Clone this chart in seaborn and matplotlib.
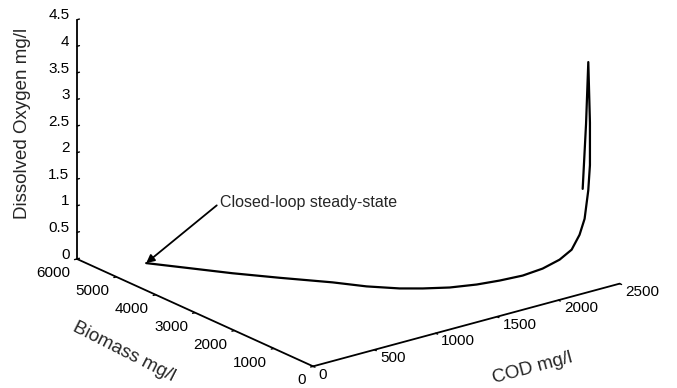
import matplotlib
matplotlib.use('Agg')
import matplotlib.pyplot as plt
import seaborn as sns
from mpl_toolkits.mplot3d import proj3d

# trajectory
cod = [2300, 2330, 2350, 2365, 2365, 2340, 2332, 2366, 2337, 2253,
       2095, 1915, 1741, 1579, 1407, 1258, 1140, 994, 865, 645, 455, 292, 128]
biomass = [317, 325, 330, 335, 335, 300, 368, 602, 713, 757,
           697, 641, 684, 762, 913, 1135, 1354, 1738, 2202, 2865, 3470, 4055, 4640]
oxygen = [1.8, 3.0, 4.15, 3.0, 2.2, 1.75, 1.2, 0.8, 0.5, 0.35,
          0.3, 0.3, 0.3, 0.3, 0.3, 0.3, 0.3, 0.3, 0.3, 0.3, 0.3, 0.3, 0.3]

cod_ticks = [0, 500, 1000, 1500, 2000, 2500]
biomass_ticks = [0, 1000, 2000, 3000, 4000, 5000, 6000]
oxygen_ticks = [0, 0.5, 1, 1.5, 2, 2.5, 3, 3.5, 4, 4.5]

sns.set_theme(style='white')
plt.rcParams['font.family'] = ['Liberation Sans', 'DejaVu Sans']

fig = plt.figure(figsize=(6.77, 3.88), dpi=100)
# 3d axes are kept square, so make it as wide as the figure to avoid clipping
ax = fig.add_axes([0.001, -0.287, 1.0, 1.745], projection='3d', proj_type='ortho')
ax.view_init(elev=20.5, azim=-127.6)
ax.set_box_aspect((1, 1, 0.66), zoom=0.866)

ax.plot(cod, biomass, oxygen, color='black', lw=1.6, solid_joinstyle='round')

ax.set_xlim(0, 2500)
ax.set_ylim(0, 6000)
ax.set_zlim(0, 4.5)
ax.set_xticks(cod_ticks, [f'{t:g}' for t in cod_ticks])
ax.set_yticks(biomass_ticks, [f'{t:g}' for t in biomass_ticks])
ax.set_zticks(oxygen_ticks, [f'{t:g}' for t in oxygen_ticks])
ax.tick_params(labelsize=11, colors='black')
ax.xaxis.set_tick_params(pad=-2)
ax.yaxis.set_tick_params(pad=-2.4)
ax.zaxis.set_tick_params(pad=-4.5)
for lbl in ax.get_xticklabels():
    lbl.set_ha('left'); lbl.set_va('center')
for lbl in ax.get_yticklabels():
    lbl.set_ha('right'); lbl.set_va('top')
for lbl in ax.get_zticklabels():
    lbl.set_ha('right'); lbl.set_va('baseline')

# axis titles placed like the original (slanted along the floor axes)
ax.text2D(0.786, 0.052, 'COD mg/l', transform=fig.transFigure, fontsize=13.5,
          rotation=15, rotation_mode='anchor', ha='center', va='center')
ax.text2D(0.183, 0.093, 'Biomass mg/l', transform=fig.transFigure, fontsize=13.5,
          rotation=-27, rotation_mode='anchor', ha='center', va='center')
ax.text2D(0.033, 0.683, 'Dissolved Oxygen mg/l', transform=fig.transFigure, fontsize=13.5,
          rotation=90, rotation_mode='anchor', ha='center', va='center')

ax.grid(False)
for axis in (ax.xaxis, ax.yaxis, ax.zaxis):
    axis.set_pane_color((1, 1, 1, 0))
    axis.pane.set_edgecolor((1, 1, 1, 0))
    axis.line.set_color('black')
    axis.line.set_linewidth(1.3)
    axis._axinfo['tick']['linewidth'] = {True: 1.0, False: 0.8}
# floor axes tick inwards, the vertical one outwards
for axis in (ax.xaxis, ax.yaxis):
    axis._axinfo['tick']['inward_factor'] = 0.1
    axis._axinfo['tick']['outward_factor'] = 0.0
ax.zaxis._axinfo['tick']['inward_factor'] = 0.0
ax.zaxis._axinfo['tick']['outward_factor'] = 0.1

# arrow to the final point of the trajectory
x2, y2, _ = proj3d.proj_transform(cod[-1], biomass[-1], oxygen[-1], ax.get_proj())
ax.annotate('Closed-loop steady-state', xy=(x2, y2), xycoords='data',
            xytext=(0.325, 0.466), textcoords='figure fraction', fontsize=11.5,
            ha='left', va='baseline', annotation_clip=False,
            arrowprops=dict(arrowstyle='-|>', color='black', lw=1.3,
                            mutation_scale=12, shrinkA=0, shrinkB=0,
                            relpos=(0, 0.5)))

fig.savefig('out.png', dpi=100, facecolor='white')
